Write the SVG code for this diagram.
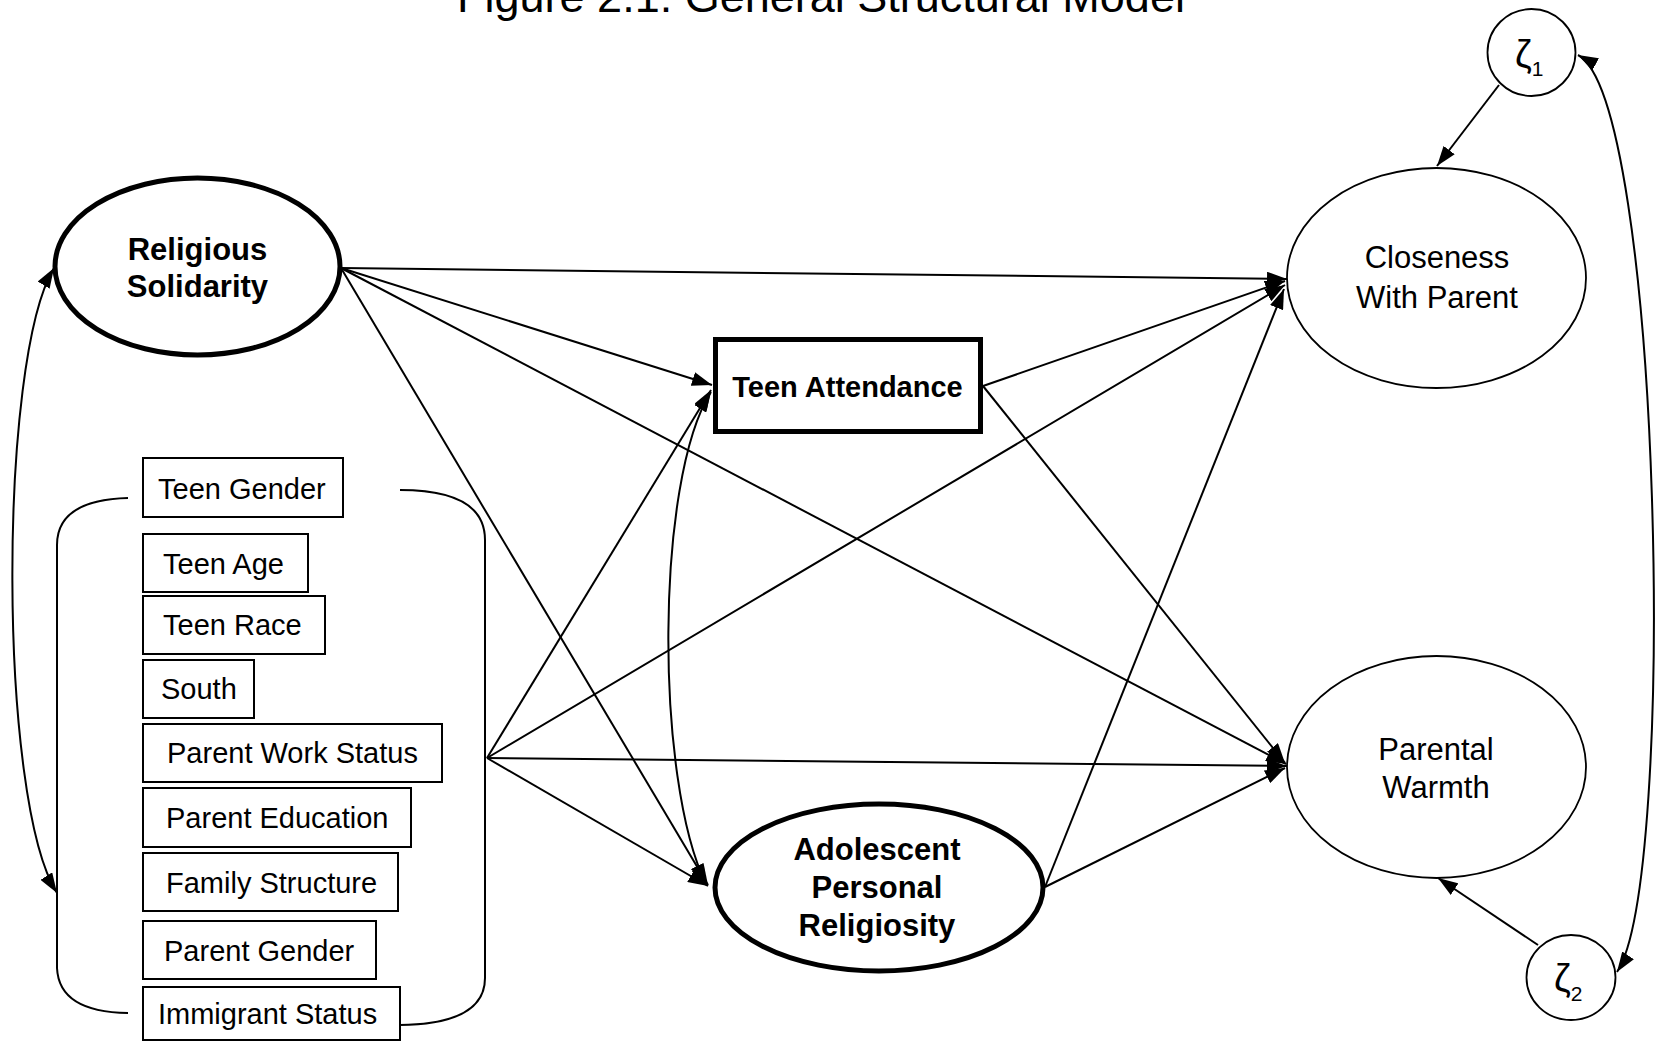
<svg xmlns="http://www.w3.org/2000/svg" width="1669" height="1045" viewBox="0 0 1669 1045">
  <style>
    text { font-family: "Liberation Sans", Arial, sans-serif; fill: #000; }
    .title { font-size: 45px; text-anchor: middle; }
    .obs { font-size: 29px; }
    .latent { font-size: 31px; text-anchor: middle; }
    .bold { font-weight: bold; }
    .zeta { font-size: 38px; }
    .sub { font-size: 21px; }
    .thin { fill: #fff; stroke: #000; stroke-width: 1.8; }
    .thick { fill: #fff; stroke: #000; stroke-width: 5; }
    .box { fill: #fff; stroke: #000; stroke-width: 2; }
    .edge { fill: none; stroke: #000; stroke-width: 2; marker-end: url(#arrow); }
    .both { fill: none; stroke: #000; stroke-width: 2; marker-start: url(#arrow); marker-end: url(#arrow); }
    .brace { fill: none; stroke: #000; stroke-width: 2; }
  </style>
  <defs>
    <marker id="arrow" markerUnits="userSpaceOnUse" markerWidth="20" markerHeight="14" refX="20" refY="7" orient="auto-start-reverse">
      <path d="M0,0 L20,7 L0,14 z" fill="#000"/>
    </marker>
  </defs>

  <rect width="1669" height="1045" fill="#fff"/>

  <text class="title" x="821" y="12">Figure 2.1: General Structural Model</text>

  <!-- paths between constructs -->
  <g id="connectors">
    <!-- from Religious Solidarity -->
    <line class="edge" x1="341" y1="268" x2="1287" y2="279"/>
    <line class="edge" x1="341" y1="268" x2="712" y2="385"/>
    <line class="edge" x1="341" y1="268" x2="1286" y2="764"/>
    <line class="edge" x1="341" y1="268" x2="708" y2="885"/>
    <!-- from the control block -->
    <line class="edge" x1="487" y1="758" x2="711" y2="390"/>
    <line class="edge" x1="487" y1="758" x2="1285" y2="285"/>
    <line class="edge" x1="487" y1="758" x2="1287" y2="766"/>
    <line class="edge" x1="487" y1="758" x2="708" y2="886"/>
    <!-- from Teen Attendance -->
    <line class="edge" x1="983" y1="386" x2="1285" y2="281"/>
    <line class="edge" x1="983" y1="386" x2="1285" y2="763"/>
    <!-- from Adolescent Personal Religiosity -->
    <line class="edge" x1="1045" y1="887" x2="1284" y2="289"/>
    <line class="edge" x1="1045" y1="887" x2="1285" y2="768"/>
    <!-- disturbances -->
    <line class="edge" x1="1499" y1="85" x2="1437" y2="166"/>
    <line class="edge" x1="1538" y1="945" x2="1438" y2="878"/>
    <!-- covariances -->
    <path class="both" d="M54,268 C-2,360 -2,800 57,893"/>
    <path class="both" d="M711,392 C655,480 655,780 706,884"/>
    <path class="both" d="M1578,55 C1662,100 1678,880 1617,972"/>
  </g>

  <g id="religious-solidarity">
    <ellipse class="thick" cx="197.5" cy="266.5" rx="142.5" ry="88.5"/>
    <text class="latent bold" x="197.5" y="260">Religious</text>
    <text class="latent bold" x="197.5" y="297">Solidarity</text>
  </g>

  <!-- bracket grouping the background controls -->
  <g id="controls">
    <path class="brace" d="M128,498 Q57,500 57,545 L57,968 Q59,1012 128,1013"/>
    <path class="brace" d="M400,490 Q485,490 485,540 L485,978 Q485,1024 400,1025"/>
    <g id="teen-gender">
      <rect class="box" x="143" y="458" width="200" height="59"/>
      <text class="obs" x="158" y="499">Teen Gender</text>
    </g>
    <g id="teen-age">
      <rect class="box" x="143" y="534" width="165" height="58"/>
      <text class="obs" x="163" y="574">Teen Age</text>
    </g>
    <g id="teen-race">
      <rect class="box" x="143" y="596" width="182" height="58"/>
      <text class="obs" x="163" y="635">Teen Race</text>
    </g>
    <g id="south">
      <rect class="box" x="143" y="660" width="111" height="58"/>
      <text class="obs" x="161" y="699">South</text>
    </g>
    <g id="parent-work-status">
      <rect class="box" x="143" y="724" width="299" height="58"/>
      <text class="obs" x="167" y="763">Parent Work Status</text>
    </g>
    <g id="parent-education">
      <rect class="box" x="143" y="788" width="268" height="59"/>
      <text class="obs" x="166" y="828">Parent Education</text>
    </g>
    <g id="family-structure">
      <rect class="box" x="143" y="853" width="255" height="58"/>
      <text class="obs" x="166" y="893">Family Structure</text>
    </g>
    <g id="parent-gender">
      <rect class="box" x="143" y="921" width="233" height="58"/>
      <text class="obs" x="164" y="961">Parent Gender</text>
    </g>
    <g id="immigrant-status">
      <rect class="box" x="143" y="987" width="257" height="53"/>
      <text class="obs" x="158" y="1024">Immigrant Status</text>
    </g>
  </g>

  <g id="teen-attendance">
    <rect class="thick" x="715.5" y="339.5" width="265" height="92"/>
    <text class="obs bold" x="847.5" y="397" text-anchor="middle">Teen Attendance</text>
  </g>

  <g id="adolescent-religiosity">
    <ellipse class="thick" cx="879" cy="887.5" rx="164" ry="83.5"/>
    <text class="latent bold" x="877" y="860">Adolescent</text>
    <text class="latent bold" x="877" y="898">Personal</text>
    <text class="latent bold" x="877" y="936">Religiosity</text>
  </g>

  <g id="closeness">
    <ellipse class="thin" cx="1436.5" cy="278" rx="149.5" ry="110"/>
    <text class="latent" x="1437" y="268">Closeness</text>
    <text class="latent" x="1437" y="308">With Parent</text>
  </g>

  <g id="warmth">
    <ellipse class="thin" cx="1436.5" cy="767" rx="149.5" ry="111"/>
    <text class="latent" x="1436" y="760">Parental</text>
    <text class="latent" x="1436" y="798">Warmth</text>
  </g>

  <g id="zeta1">
    <ellipse class="thin" cx="1531.5" cy="52.5" rx="44" ry="43.5"/>
    <text x="1515" y="67"><tspan class="zeta">ζ</tspan><tspan class="sub" dy="9">1</tspan></text>
  </g>

  <g id="zeta2">
    <ellipse class="thin" cx="1571" cy="977.5" rx="44.5" ry="42.5"/>
    <text x="1554" y="991"><tspan class="zeta">ζ</tspan><tspan class="sub" dy="10">2</tspan></text>
  </g>
</svg>
